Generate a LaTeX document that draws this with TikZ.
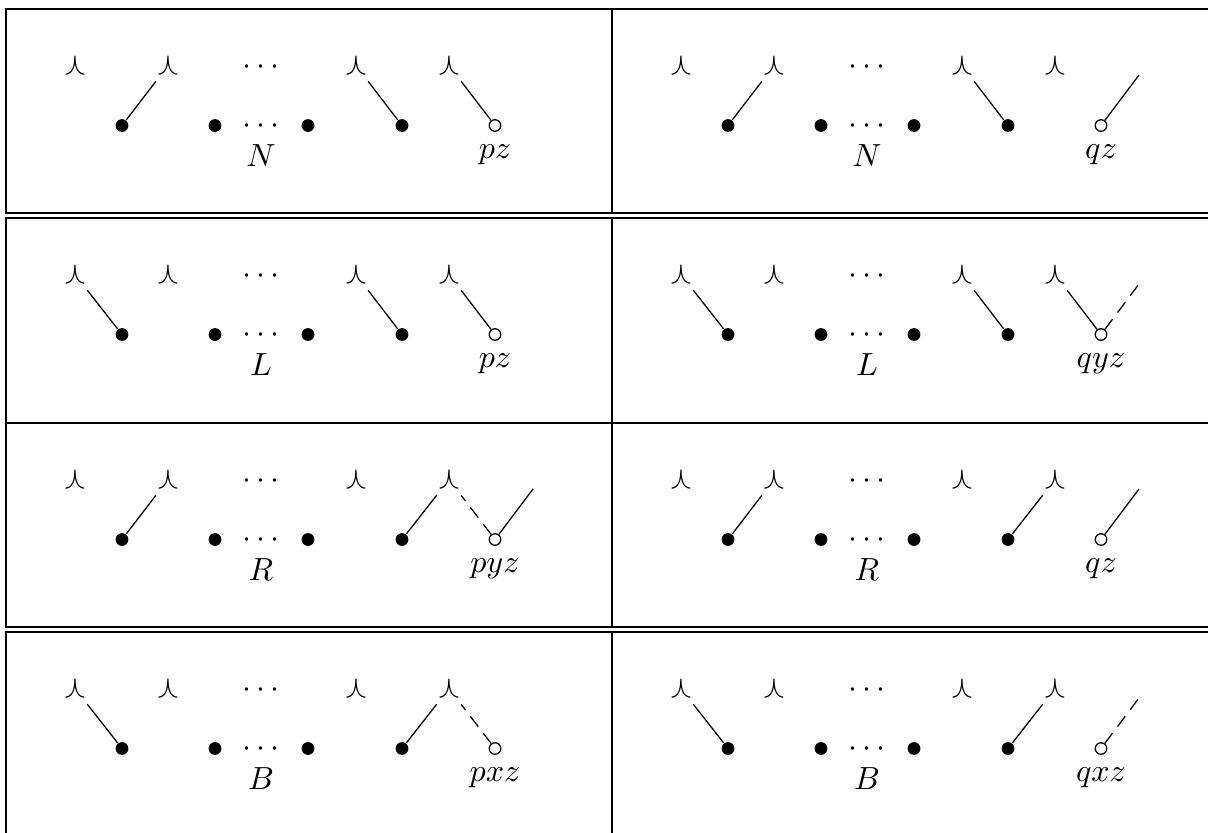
\documentclass[tikz,border=0pt]{standalone}
\usepackage{amssymb}
\usetikzlibrary{positioning}

\newcommand{\wedgepanel}[5]{%
  \begin{scope}[shift={(#2,#3)}]
    \node[wedge] (#1t1) at (75,56.5) {$\curlywedge$};
    \node[wedge] (#1t2) at (168,56.5) {$\curlywedge$};
    \node[dots] (#1td) at (261,65) {$\cdots$};
    \node[wedge] (#1t3) at (356,56.5) {$\curlywedge$};
    \node[wedge] (#1t4) at (449,56.5) {$\curlywedge$};
    \coordinate (#1f) at (533,66);
    \node[full] (#1b1) at (122,116.5) {};
    \node[full] (#1b2) at (215,116.5) {};
    \node[dots] (#1bd) at (261,124.5) {$\cdots$};
    \node[full] (#1b3) at (308,116.5) {};
    \node[full] (#1b4) at (402,116.5) {};
    \node[hollow] (#1b5) at (495,116.5) {};
    \node[tag] (#1n) at (261,157.5) {$#4$};
    \node[tag] (#1e) at (495,149.5) {$#5$};
  \end{scope}}

\begin{document}
\begin{tikzpicture}[
    x=0.3125pt, y=-0.3125pt,
    wedge/.style={inner sep=0pt},
    dots/.style={anchor=base, inner sep=0pt},
    tag/.style={anchor=base, inner sep=0pt},
    full/.style={circle, fill, inner sep=0pt, minimum size=4pt},
    hollow/.style={circle, draw, fill=white, inner sep=0pt, minimum size=3.6pt, line width=0.4pt},
    arm/.style={line width=0.4pt, shorten >=2.5pt},
    stub/.style={line width=0.4pt},
    gap/.style={dash pattern=on 4pt off 2.6pt},
    frame/.style={line width=0.5pt},
  ]
  \useasboundingbox (0,0) rectangle (1208,832);
  \clip (0,0) rectangle (1208,832);

  \draw[frame] (6,9) rectangle (1218,213) (612,9) -- (612,213);
  \draw[frame] (6,218) rectangle (1218,627) (6,423) -- (1218,423) (612,218) -- (612,627);
  \draw[frame] (6,632) rectangle (1218,836) (612,632) -- (612,836);

  \wedgepanel{nl}{0}{9}{N}{pz}
  \wedgepanel{nr}{606}{9}{N}{qz}
  \wedgepanel{ll}{0}{218}{L}{pz}
  \wedgepanel{lr}{606}{218}{L}{qyz}
  \wedgepanel{rl}{0}{423}{R}{pyz}
  \wedgepanel{rr}{606}{423}{R}{qz}
  \wedgepanel{bl}{0}{632}{B}{pxz}
  \wedgepanel{br}{606}{632}{B}{qxz}

  \draw[arm] (nlb1) -- (nlt2);
  \draw[arm] (nlb4) -- (nlt3);
  \draw[arm] (nlb5) -- (nlt4);
  \draw[arm] (nrb1) -- (nrt2);
  \draw[arm] (nrb4) -- (nrt3);
  \draw[stub] (nrb5) -- (nrf);

  \draw[arm] (llb1) -- (llt1);
  \draw[arm] (llb4) -- (llt3);
  \draw[arm] (llb5) -- (llt4);
  \draw[arm] (lrb1) -- (lrt1);
  \draw[arm] (lrb4) -- (lrt3);
  \draw[arm] (lrb5) -- (lrt4);
  \draw[stub, gap] (lrb5) -- (lrf);

  \draw[arm] (rlb1) -- (rlt2);
  \draw[arm] (rlb4) -- (rlt4);
  \draw[arm, gap] (rlb5) -- (rlt4);
  \draw[stub] (rlb5) -- (rlf);
  \draw[arm] (rrb1) -- (rrt2);
  \draw[arm] (rrb4) -- (rrt4);
  \draw[stub] (rrb5) -- (rrf);

  \draw[arm] (blb1) -- (blt1);
  \draw[arm] (blb4) -- (blt4);
  \draw[arm, gap] (blb5) -- (blt4);
  \draw[arm] (brb1) -- (brt1);
  \draw[arm] (brb4) -- (brt4);
  \draw[stub, gap] (brb5) -- (brf);
\end{tikzpicture}
\end{document}
